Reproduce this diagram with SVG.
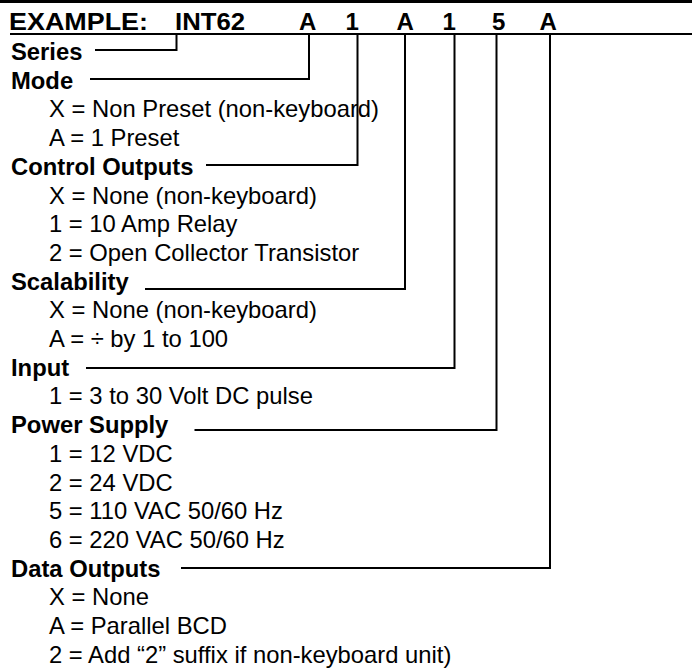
<svg xmlns="http://www.w3.org/2000/svg" width="692" height="668" viewBox="0 0 692 668">
<style>
text{font-family:"Liberation Sans",Arial,Helvetica,sans-serif;fill:#000}
.h{font-weight:bold;font-size:23.8px}
.o{font-size:23.8px}
.x{font-weight:bold;font-size:24px}
.c{fill:none;stroke:#000;stroke-width:2}
</style>
<rect x="0" y="0" width="692" height="3" fill="#000"/>
<g id="header">
<text class="x" x="9" y="30" textLength="139" lengthAdjust="spacingAndGlyphs">EXAMPLE:</text>
<text class="x" x="175" y="30" textLength="70" lengthAdjust="spacingAndGlyphs">INT62</text>
<text class="x" x="299" y="30">A</text>
<text class="x" x="345.5" y="30">1</text>
<text class="x" x="396.5" y="30">A</text>
<text class="x" x="442.5" y="30">1</text>
<text class="x" x="492" y="30">5</text>
<text class="x" x="539.5" y="30">A</text>
<line class="c" x1="10" y1="34" x2="692" y2="34"/>
</g>
<g id="series"><text class="h" x="11" y="60">Series</text></g>
<g id="mode">
<text class="h" x="11" y="88.7">Mode</text>
<text class="o" x="49" y="117.4">X = Non Preset (non-keyboard)</text>
<text class="o" x="49" y="146.1">A = 1 Preset</text>
</g>
<g id="control-outputs">
<text class="h" x="11" y="174.8">Control Outputs</text>
<text class="o" x="49" y="203.5">X = None (non-keyboard)</text>
<text class="o" x="49" y="232.2">1 = 10 Amp Relay</text>
<text class="o" x="49" y="260.9">2 = Open Collector Transistor</text>
</g>
<g id="scalability">
<text class="h" x="11" y="289.6">Scalability</text>
<text class="o" x="49" y="318.3">X = None (non-keyboard)</text>
<text class="o" x="49" y="347">A = ÷ by 1 to 100</text>
</g>
<g id="input">
<text class="h" x="11" y="375.7">Input</text>
<text class="o" x="49" y="404.4">1 = 3 to 30 Volt DC pulse</text>
</g>
<g id="power-supply">
<text class="h" x="11" y="433.1">Power Supply</text>
<text class="o" x="49" y="461.8">1 = 12 VDC</text>
<text class="o" x="49" y="490.5">2 = 24 VDC</text>
<text class="o" x="49" y="519.2">5 = 110 VAC 50/60 Hz</text>
<text class="o" x="49" y="547.9">6 = 220 VAC 50/60 Hz</text>
</g>
<g id="data-outputs">
<text class="h" x="11" y="576.6">Data Outputs</text>
<text class="o" x="49" y="605.3">X = None</text>
<text class="o" x="49" y="634">A = Parallel BCD</text>
<text class="o" x="49" y="662.7">2 = Add “2” suffix if non-keyboard unit)</text>
</g>
<g id="connectors">
<polyline class="c" points="95,50 176.5,50 176.5,34"/>
<polyline class="c" points="90,79 309,79 309,34"/>
<polyline class="c" points="206,165 357.5,165 357.5,34"/>
<polyline class="c" points="145,289 405,289 405,34"/>
<polyline class="c" points="86,368 454.5,368 454.5,34"/>
<polyline class="c" points="194.5,430 496.5,430 496.5,34"/>
<polyline class="c" points="181,568 550,568 550,34"/>
</g>
</svg>
